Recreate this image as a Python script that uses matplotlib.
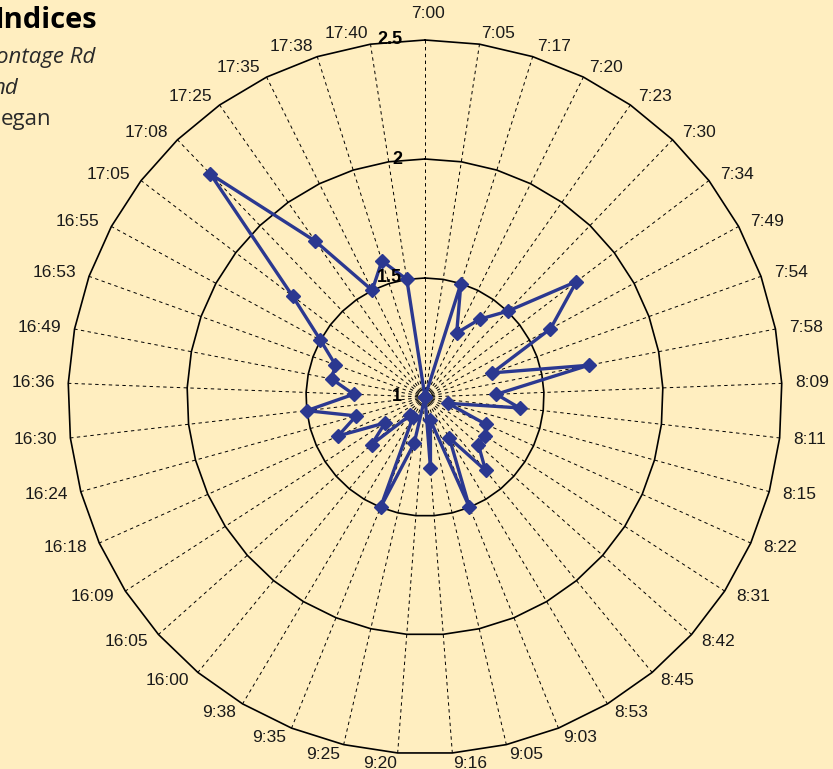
"""
Radar chart of time-of-day indices (cropped view).
Spokes are sample times, rings are index values from 1 to 2.5.
"""

import numpy as np
import matplotlib

matplotlib.use("Agg")
import matplotlib.pyplot as plt


# ---------------------------------------------------------
# Data
# ---------------------------------------------------------
times = [
    "7:00", "7:05", "7:17", "7:20", "7:23", "7:30", "7:34", "7:49", "7:54",
    "7:58", "8:09", "8:11", "8:15", "8:22", "8:31", "8:42", "8:45", "8:53",
    "9:03", "9:05", "9:16", "9:20", "9:25", "9:35", "9:38", "16:00", "16:05",
    "16:09", "16:18", "16:24", "16:30", "16:36", "16:49", "16:53", "16:55",
    "17:05", "17:08", "17:25", "17:35", "17:38", "17:40",
]

index_values = [
    1.0, 1.0, 1.5, 1.3, 1.4, 1.5, 1.8, 1.6, 1.3,
    1.7, 1.3, 1.4, 1.1, 1.28, 1.3, 1.3, 1.4, 1.2,
    1.5, 1.1, 1.3, 1.0, 1.2, 1.5, 1.1, 1.1, 1.3,
    1.2, 1.4, 1.3, 1.5, 1.3, 1.4, 1.4, 1.5,
    1.7, 2.3, 1.8, 1.5, 1.6, 1.5,
]

ring_values = [1.5, 2.0, 2.5]
ring_labels = ["1", "1.5", "2", "2.5"]
ring_label_values = [1.0, 1.5, 2.0, 2.5]

title_parts = ["Indices", "ontage Rd", "nd", "egan"]

BG = "#FFEEC0"
LINE_COLOR = "#2B3890"
R_MIN, R_MAX = 1.0, 2.5


# ---------------------------------------------------------
# Helpers
# ---------------------------------------------------------
def px(x, y, w=833, h=769):
    """pixel position (from top-left) -> figure fraction"""
    return x / w, 1 - y / h


def draw_grid(ax, theta):
    closed = np.append(theta, theta[0])
    for rv in ring_values:
        ax.plot(closed, [rv] * len(closed), color="black", lw=1.2,
                clip_on=False, zorder=2)
    for t in theta:
        ax.plot([t, t], [R_MIN, R_MAX], color="black", lw=0.7,
                linestyle=(0, (3.5, 3.5)), clip_on=False, zorder=1)


def draw_labels(ax, theta):
    for t, lbl in zip(theta, times):
        s, c = np.sin(t), np.cos(t)
        if s > 0.01:
            ha = "left"
        elif s < -0.01:
            ha = "right"
        else:
            ha = "center"
        dx = 9.7 * s
        dy = 7.6 * c
        if lbl == "7:00":
            dx, dy = 2.0, 19.0
        ax.annotate(lbl, xy=(t, R_MAX), xycoords="data",
                    xytext=(dx, dy), textcoords="offset points",
                    ha=ha, va="center", fontsize=12.5,
                    family="Liberation Sans", color="#1a1a1a",
                    annotation_clip=False)

    for rv, lbl in zip(ring_label_values, ring_labels):
        ax.annotate(lbl, xy=(0, rv), xycoords="data",
                    xytext=(-16.5, 0), textcoords="offset points",
                    ha="right", va="center", fontsize=13, fontweight="bold",
                    family="Liberation Sans", color="black",
                    annotation_clip=False, zorder=6)


def draw_title(fig):
    fig.text(*px(97, 21), title_parts[0], ha="right", va="center",
             fontsize=21, fontweight="bold", family="Open Sans", color="black")
    fig.text(*px(95, 57), title_parts[1], ha="right", va="center",
             fontsize=16, style="italic", family="Open Sans", color="#2a2a2a")
    fig.text(*px(18, 88), title_parts[2], ha="right", va="center",
             fontsize=16, style="italic", family="Open Sans", color="#2a2a2a")
    fig.text(*px(51, 119), title_parts[3], ha="right", va="center",
             fontsize=16, family="Open Sans", color="#2a2a2a")


# ---------------------------------------------------------
# Main
# ---------------------------------------------------------
def main():
    fig = plt.figure(figsize=(8.33, 7.69), dpi=100, facecolor=BG)

    # polar area: centre at (425, 397) px, radius 357 px
    ax = fig.add_axes([68 / 833, 15 / 769, 714 / 833, 714 / 769],
                      projection="polar")
    ax.set_theta_zero_location("N")
    ax.set_theta_direction(-1)
    ax.set_ylim(R_MIN, R_MAX)
    ax.set_xticks([])
    ax.set_yticks([])
    ax.grid(False)
    ax.spines["polar"].set_visible(False)
    ax.patch.set_alpha(0)

    n = len(times)
    theta = np.arange(n) * 2 * np.pi / n

    draw_grid(ax, theta)

    closed_t = np.append(theta, theta[0])
    closed_v = np.append(index_values, index_values[0])
    ax.plot(closed_t, closed_v, color=LINE_COLOR, lw=2.4, marker="D",
            markersize=7.5, markerfacecolor=LINE_COLOR,
            markeredgecolor=LINE_COLOR, clip_on=False, zorder=5)

    draw_labels(ax, theta)
    draw_title(fig)

    fig.savefig("out.png", dpi=100, facecolor=BG)
    plt.close(fig)


if __name__ == "__main__":
    main()
